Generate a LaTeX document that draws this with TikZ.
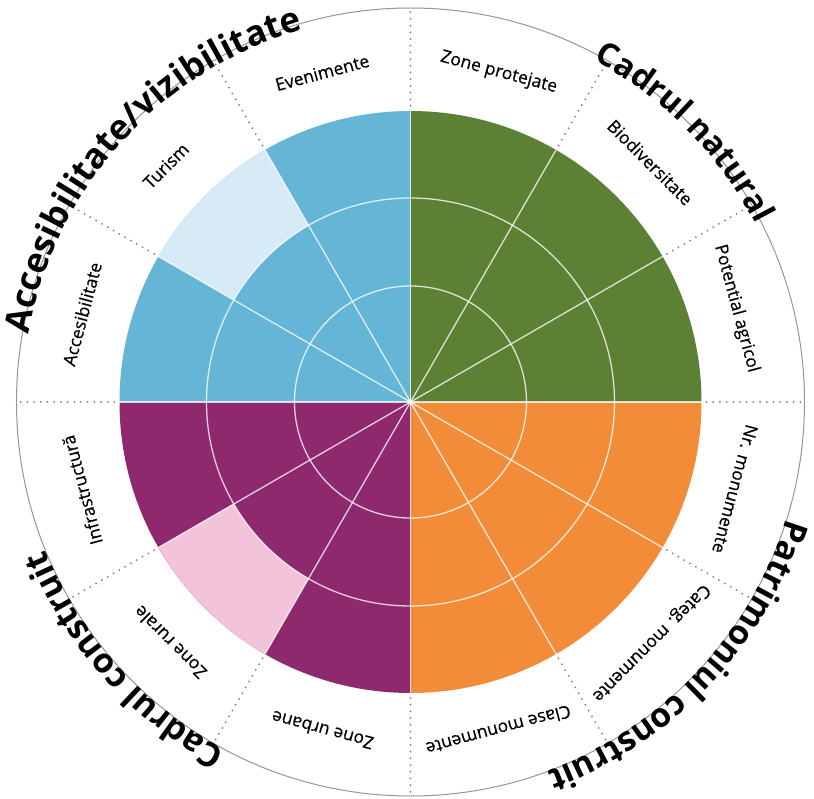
\documentclass[tikz,border=0pt]{standalone}
\usepackage{fontspec}
\setmainfont{Open Sans}
\newfontfamily\labfont{Open Sans}[FakeBold=0.5]
\usetikzlibrary{decorations.text}
\definecolor{cblue}{RGB}{101,181,215}
\definecolor{clightblue}{RGB}{215,235,246}
\definecolor{cgreen}{RGB}{92,128,52}
\definecolor{corange}{RGB}{242,140,56}
\definecolor{cpurple}{RGB}{143,41,110}
\definecolor{cpink}{RGB}{243,196,217}
\definecolor{cgray}{RGB}{125,125,125}
\definecolor{crim}{RGB}{150,150,150}
\tikzset{
  gridline/.style={draw=white, draw opacity=0.78, line width=1.3pt},
  sepline/.style={draw=cgray, line width=2pt, line cap=round, dash pattern=on 0pt off 6.7pt},
  rimline/.style={draw=crim, line width=1pt},
  lab/.style={font=\labfont\fontsize{17.5}{20}\selectfont, inner sep=0pt, text=black},
}
\newcommand{\ttlfont}[1]{\bfseries\fontsize{#1}{#1}\selectfont}
\newsavebox{\ttlbox}
\newlength{\ttlwd}
% #1 text, #2 centre angle, #3 angular span, #4 baseline radius
\newcommand{\arctitle}[4]{%
  \pgfinterruptpicture
    \sbox{\ttlbox}{\ttlfont{10}#1}%
    \global\ttlwd=\wd\ttlbox
  \endpgfinterruptpicture
  \pgfmathsetmacro\ttlsize{10*(#3)*pi/180*(#4)/\ttlwd}%
  \pgfmathsetmacro\ttlstart{#2+70}%
  \pgfmathsetmacro\ttlend{#2-70}%
  \path[decorate, decoration={text along path, text align=center,
    text={|\ttlfont{\ttlsize}|#1}}]
    (\ttlstart:#4) arc[start angle=\ttlstart, end angle=\ttlend, radius=#4];
}
\begin{document}
\begin{tikzpicture}[x=1pt,y=1pt]
\useasboundingbox (-410.5,-396) rectangle (403.5,402);
\fill[white] (-410.5,-396) rectangle (403.5,402);
% quadrants
\fill[cblue] (0,0) -- (90:291) arc[start angle=90,end angle=180,radius=291] -- cycle;
\fill[cgreen] (0,0) -- (0:291) arc[start angle=0,end angle=90,radius=291] -- cycle;
\fill[corange] (0,0) -- (270:291) arc[start angle=270,end angle=360,radius=291] -- cycle;
\fill[cpurple] (0,0) -- (180:291) arc[start angle=180,end angle=270,radius=291] -- cycle;
% light segments
\fill[clightblue] (120:204) arc[start angle=120,end angle=150,radius=204] -- (150:291) arc[start angle=150,end angle=120,radius=291] -- cycle;
\fill[cpink] (210:204) arc[start angle=210,end angle=240,radius=204] -- (240:291) arc[start angle=240,end angle=210,radius=291] -- cycle;
% grid
\draw[gridline] (0,0) circle[radius=116];
\draw[gridline] (0,0) circle[radius=204];
\foreach \a in {0,30,...,330} \draw[gridline] (0,0) -- (\a:291);
% dotted separators
\foreach \a in {0,30,...,330} \draw[sepline] (\a:296) -- (\a:392);
% outer circle
\draw[rimline] (0,0) circle[radius=394];
% labels
\node[lab, rotate=15]   (even)  at (105:341) {Evenimente};
\node[lab, rotate=-15]  (zprot) at (75:341)  {Zone protejate};
\node[lab, rotate=-45]  (biod)  at (45:339)  {Biodiversitate};
\node[lab, rotate=-75]  (pagr)  at (16:339)  {Potential agricol};
\node[lab, rotate=-105] (nrmon) at (-15:336) {Nr. monumente};
\node[lab, rotate=-135] (catm)  at (-45:340) {Categ. monumente};
\node[lab, rotate=-165] (clm)   at (-75:340) {Clase monumente};
\node[lab, rotate=165]  (zurb)  at (255:340) {Zone urbane};
\node[lab, rotate=135]  (zrur)  at (225:340) {Zone rurale};
\node[lab, rotate=105]  (infr)  at (195:340) {Infrastructură};
\node[lab, rotate=75]   (acc)   at (165:340) {Accesibilitate};
\node[lab, rotate=45]   (tur)   at (136:340) {Turism};
% titles
\arctitle{Accesibilitate/vizibilitate}{138}{64}{388}
\arctitle{Cadrul natural}{44.5}{34.5}{388}
\arctitle{Patrimoniul construit}{-43.5}{52.5}{394}
\arctitle{Cadrul construit}{222}{40}{394}
\end{tikzpicture}
\end{document}
